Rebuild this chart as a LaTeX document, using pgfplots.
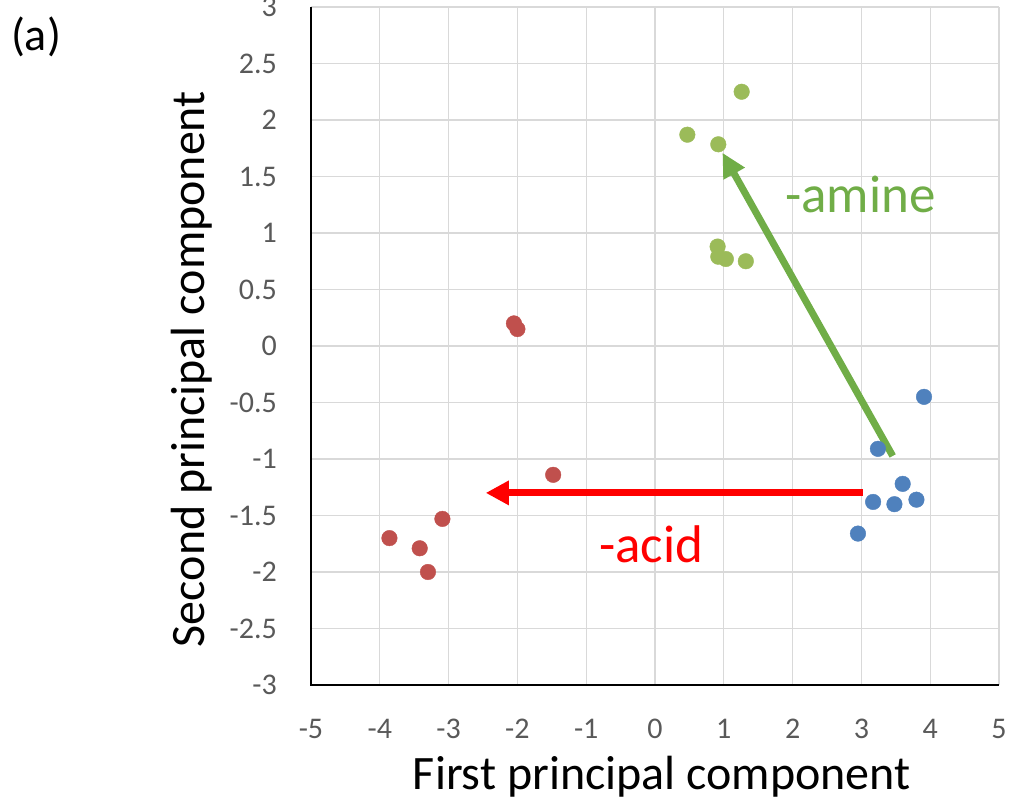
\documentclass[border=0pt]{standalone}
\usepackage{fontspec}
\setmainfont{Carlito}
\usepackage{pgfplots}
\pgfplotsset{compat=1.18}
\usetikzlibrary{arrows.meta}

\definecolor{gridgray}{HTML}{D9D9D9}
\definecolor{tickgray}{HTML}{595959}
\definecolor{bluept}{HTML}{4F81BD}
\definecolor{redpt}{HTML}{C0504D}
\definecolor{greenpt}{HTML}{9BBB59}
\definecolor{arrowgreen}{HTML}{70AD47}
\definecolor{arrowred}{HTML}{FF0000}

\begin{document}
\begin{tikzpicture}
\useasboundingbox (-311pt,-119pt) rectangle (698pt,685pt);
\begin{axis}[
  scale only axis, width=688pt, height=678pt,
  xmin=-5, xmax=5, ymin=-3, ymax=3,
  xtick={-5,-4,-3,-2,-1,0,1,2,3,4,5},
  ytick={-3,-2.5,-2,-1.5,-1,-0.5,0,0.5,1,1.5,2,2.5,3},
  grid=major, grid style={gridgray, line width=1.3pt},
  axis line style={draw=none},
  major tick length=0pt,
  /pgf/number format/assume math mode=true,
  tick label style={font=\fontsize{30}{36}\selectfont, text=tickgray, inner sep=0pt},
  xticklabel style={anchor=north, yshift=-34pt},
  yticklabel style={anchor=east, xshift=-34pt},
  xlabel={First principal component},
  ylabel={Second principal component},
  label style={font=\fontsize{48}{58}\selectfont, inner sep=0pt},
  xlabel style={at={([yshift=-104pt]axis description cs:0.51,0)}, anchor=base},
  ylabel style={at={([xshift=-106pt]axis description cs:0,0.466)}, anchor=base},
  clip=false,
]
% acids
\addplot[only marks, mark=*, mark size=7.8pt, mark options={draw=redpt, fill=redpt}]
  coordinates {(-2.05,0.20)(-2.00,0.15)(-1.48,-1.14)(-3.09,-1.53)(-3.86,-1.70)(-3.42,-1.79)(-3.30,-2.00)};
% amines
\addplot[only marks, mark=*, mark size=7.8pt, mark options={draw=greenpt, fill=greenpt}]
  coordinates {(1.26,2.25)(0.47,1.87)(0.92,1.785)(0.91,0.88)(0.92,0.79)(1.03,0.77)(1.32,0.75)};
% parents
\addplot[only marks, mark=*, mark size=7.8pt, mark options={draw=bluept, fill=bluept}]
  coordinates {(3.91,-0.45)(3.24,-0.91)(3.60,-1.22)(3.17,-1.38)(3.48,-1.40)(3.80,-1.36)(2.95,-1.66)};
% shifts
\addplot[arrowred, line width=7pt, mark=none, -{Triangle[length=23pt,width=23pt]}]
  coordinates {(3.02,-1.30)(-2.46,-1.30)};
\addplot[arrowgreen, line width=7pt, mark=none, -{Triangle[length=24pt,width=23pt]}]
  coordinates {(3.455,-0.973)(0.98,1.71)};
\node[anchor=base west, inner sep=0pt, text=arrowgreen, font=\fontsize{53}{64}\selectfont]
  at (axis cs:1.89,1.18) {-amine};
\node[anchor=base west, inner sep=0pt, text=arrowred, font=\fontsize{53}{64}\selectfont]
  at (axis cs:-0.814,-1.92) {-acid};
\draw[black, line width=1.8pt] (rel axis cs:0,1) -- (rel axis cs:0,0) -- (rel axis cs:1,0);
\end{axis}
\node[inner sep=0pt, font=\fontsize{46}{55}\selectfont] at (-275pt,648pt) {(a)};
\end{tikzpicture}
\end{document}
